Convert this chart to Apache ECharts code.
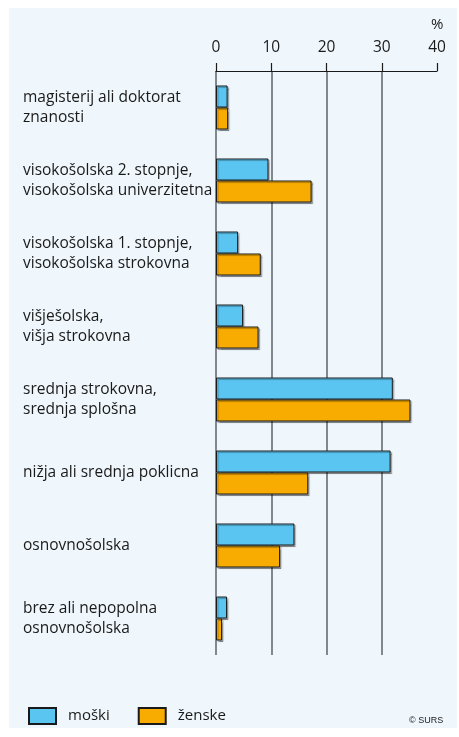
<!DOCTYPE html>
<html>
<head>
<meta charset="utf-8">
<style>
  html, body { margin: 0; padding: 0; background: #ffffff; }
  #chart { width: 459px; height: 737px; }
</style>
<script src="https://cdn.jsdelivr.net/npm/echarts@6/dist/echarts.min.js"></script>
</head>
<body>
<div id="chart"></div>
<script>
// Education level categories (top to bottom)
var categories = [
  'magisterij ali doktorat\nznanosti',
  'visokošolska 2. stopnje,\nvisokošolska univerzitetna',
  'visokošolska 1. stopnje,\nvisokošolska strokovna',
  'višješolska,\nvišja strokovna',
  'srednja strokovna,\nsrednja splošna',
  'nižja ali srednja poklicna',
  'osnovnošolska',
  'brez ali nepopolna\nosnovnošolska'
];
// Shares in %
var moski  = [2.1, 9.5, 4.0, 4.9, 32.0, 31.6, 14.2, 2.0];
var zenske = [2.2, 17.3, 8.1, 7.7, 35.2, 16.7, 11.6, 1.1];
var seriesNames = ['moški', 'ženske'];
var seriesColors = ['#5bc5f2', '#f8ab00'];
var axisTicks = { min: 0, max: 40, interval: 10 };

var font = '"Open Sans", "DejaVu Sans", sans-serif';
var chart = echarts.init(document.getElementById('chart'), null, { renderer: 'canvas' });

function barSeries(name, data, color) {
  return {
    name: name,
    type: 'bar',
    data: data,
    barWidth: 22,
    barGap: '0%',
    itemStyle: {
      color: color,
      borderColor: '#1a1a1a',
      borderWidth: 1,
      shadowColor: 'rgba(0,0,0,0.3)',
      shadowOffsetX: 1.5,
      shadowOffsetY: 1.5,
      shadowBlur: 1
    },
    emphasis: { disabled: true }
  };
}

chart.setOption({
  animation: false,
  backgroundColor: '#ffffff',
  graphic: [
    { type: 'rect', z: -10, silent: true,
      shape: { x: 9, y: 8, width: 448, height: 720 },
      style: { fill: '#eff7fd' } },
    { type: 'text', left: 431, top: 17,
      style: { text: '%', font: '15px ' + font, fill: '#1a1a1a' } },
    { type: 'text', left: 409, top: 716,
      style: { text: '© SURS', font: '9px "Liberation Sans", Arial, sans-serif', fill: '#1a1a1a' } }
  ],
  grid: { left: 216, right: 22, top: 71, height: 584, containLabel: false },
  xAxis: {
    type: 'value',
    position: 'top',
    min: axisTicks.min, max: axisTicks.max, interval: axisTicks.interval,
    axisLine: { show: true, lineStyle: { color: '#1a1a1a', width: 1.2 } },
    axisTick: { show: true, length: 8, lineStyle: { color: '#1a1a1a', width: 1.2 } },
    axisLabel: { margin: 15, fontFamily: font, fontSize: 15.5, color: '#1a1a1a' },
    splitLine: {
      show: true,
      lineStyle: { color: ['#666b70', '#666b70', '#666b70', '#666b70', 'rgba(0,0,0,0)'], width: 1.6 }
    }
  },
  yAxis: {
    type: 'category',
    inverse: true,
    data: categories,
    axisLine: { show: false },
    axisTick: { show: false },
    axisLabel: {
      align: 'left',
      margin: 193,
      fontFamily: font,
      fontSize: 15.5,
      lineHeight: 20,
      color: '#1a1a1a'
    }
  },
  legend: {
    left: 28, top: 707,
    padding: 0,
    itemWidth: 27, itemHeight: 16,
    itemGap: 28,
    icon: 'rect',
    data: seriesNames,
    textStyle: { fontFamily: font, fontSize: 15, color: '#1a1a1a', padding: [0, 0, 0, 7] },
    selectedMode: false
  },
  series: [
    barSeries(seriesNames[0], moski, seriesColors[0]),
    barSeries(seriesNames[1], zenske, seriesColors[1])
  ]
});
</script>
</body>
</html>
